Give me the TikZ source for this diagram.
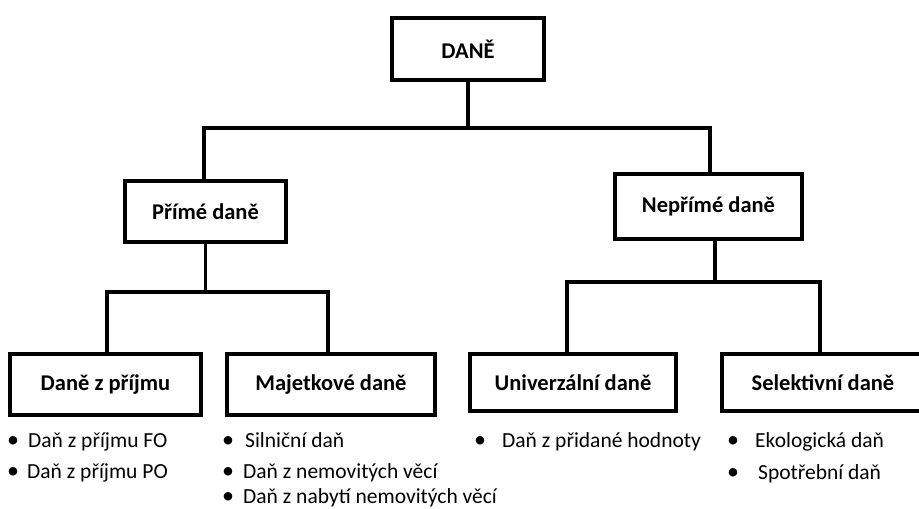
\documentclass[tikz,border=0pt]{standalone}
\usepackage{fontspec}
\setmainfont{Carlito}
\newcommand\bulletitem[2]{\makebox[#1][l]{\raisebox{-0.5pt}{\fontsize{24}{24}\selectfont•}}#2}
\begin{document}
\begin{tikzpicture}[x=1pt,y=-1pt,
  box/.style={draw, line width=4pt, inner sep=0pt, align=center,
    font=\fontsize{22.5}{26}\selectfont\bfseries},
  conn/.style={line width=3.5pt},
  item/.style={anchor=base west, inner sep=0pt,
    font=\fontsize{21.5}{26}\selectfont}]
\useasboundingbox (0,0) rectangle (919,509);
\fill[white] (0,0) rectangle (919,509);
% boxes
\node[box, minimum width=152pt, minimum height=62pt] (dane) at (468,49) {DANĚ};
\node[box, minimum width=161pt, minimum height=61pt] (prime) at (205.5,211.5) {Přímé daně};
\node[box, minimum width=187pt, minimum height=65pt] (neprime) at (708.5,206.5) {Nepřímé daně};
\node[box, minimum width=191pt, minimum height=61pt] (dzp) at (105.5,384.5) {Daně z příjmu};
\node[box, minimum width=208pt, minimum height=61pt] (maj) at (331,384.5) {Majetkové daně};
\node[box, minimum width=206pt, minimum height=57pt] (univ) at (573,382.5) {Univerzální daně};
\node[box, minimum width=202pt, minimum height=57pt] (sel) at (823,382.5) {Selektivní daně};
% connectors
\coordinate (j0) at (468,128);
\coordinate (j1) at (205,292);
\coordinate (j2) at (715,282);
\draw[conn] (dane.south) -- (j0);
\draw[conn] ([xshift=-1.5pt]prime.north) |- (j0) -| ([xshift=1.5pt]neprime.north);
\draw[conn] (prime.south) -- (prime.south |- j1);
\draw[conn] ([xshift=1.5pt]dzp.north) |- (j1) -| ([xshift=-3pt]maj.north);
\draw[conn] ([xshift=6.5pt]neprime.south) -- (j2);
\draw[conn] ([xshift=-6pt]univ.north) |- (j2) -| ([xshift=-3pt]sel.north);
% items
\node[item] (fo) at (7,447) {\bulletitem{21pt}{Daň z příjmu FO}};
\node[item] (po) at (7,478) {\bulletitem{20pt}{Daň z příjmu PO}};
\node[item] (sil) at (222,447) {\bulletitem{23pt}{Silniční daň}};
\node[item] (nem) at (222,478) {\bulletitem{21pt}{Daň z nemovitých věcí}};
\node[item] (nab) at (222,503) {\bulletitem{21pt}{Daň z nabytí nemovitých věcí}};
\node[item] (dph) at (474,447) {\bulletitem{28pt}{Daň z přidané hodnoty}};
\node[item] (eko) at (727,447) {\bulletitem{28pt}{Ekologická daň}};
\node[item] (spo) at (727,479) {\bulletitem{31pt}{Spotřební daň}};
\end{tikzpicture}
\end{document}
